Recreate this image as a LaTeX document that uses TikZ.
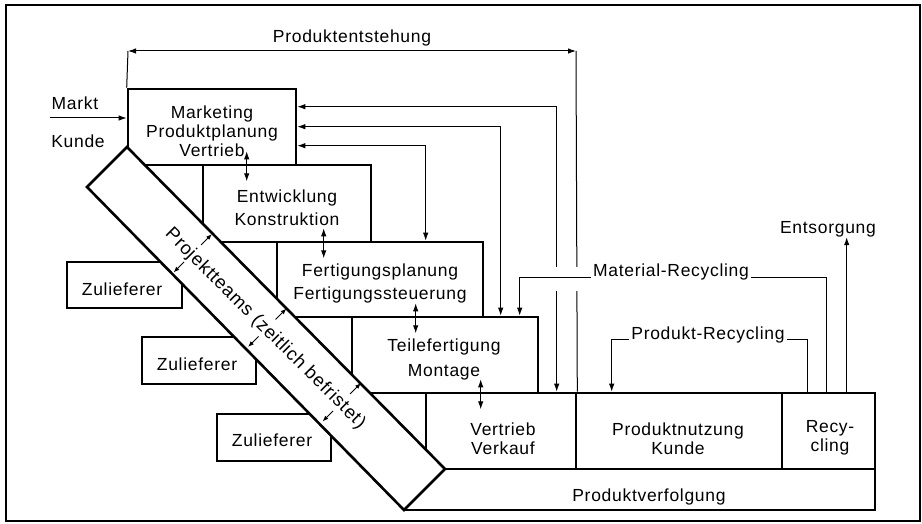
\documentclass[tikz,border=0pt]{standalone}
\usepackage{fontspec}
\newfontfamily\lbl[LetterSpace=4]{Liberation Sans}
\usetikzlibrary{arrows.meta}
\newcommand{\lblfont}{\lbl\fontsize{17.5}{19}\selectfont}
\begin{document}
\begin{tikzpicture}[x=1pt,y=-1pt,
  box/.style={draw, line width=2.6pt, inner sep=0pt},
  band/.style={draw, line width=2.6pt, fill=white, line join=miter},
  con/.style={line width=1pt},
  tip/.style={-{Latex[length=8pt,width=5.5pt]}},
  dtip/.style={{Latex[length=8pt,width=5.5pt]}-{Latex[length=8pt,width=5.5pt]}},
  stip/.style={line width=0.9pt,-{Latex[length=6pt,width=4.5pt]}},
  lab/.style={font=\lblfont, align=center, inner sep=0pt, text height=12.5pt, text depth=3.5pt},
  mlab/.style={font=\lblfont, align=center, inner sep=0pt},
  wlab/.style={lab, fill=white, inner xsep=2pt}
]
\useasboundingbox (0,0) rectangle (922,524);
\draw[line width=1.8pt] (6,5) rectangle (920,521);

% process boxes
\node[box, minimum width=168pt, minimum height=76pt] (mk) at (212,127) {};
\node[box, minimum width=168pt, minimum height=77pt] (ek) at (287,203.5) {};
\node[box, minimum width=206pt, minimum height=75pt] (fp) at (380,279.5) {};
\node[box, minimum width=186pt, minimum height=76pt] (tf) at (445,355) {};
\node[box, minimum width=150pt, minimum height=76pt] (vv) at (501,431) {};
\node[box, minimum width=206pt, minimum height=76pt] (pn) at (679,431) {};
\node[box, minimum width=93pt, minimum height=76pt] (rc) at (828.5,431) {};
\node[box, minimum width=471pt, minimum height=41pt] (pv) at (639.5,489.5) {};

% suppliers
\node[box, minimum width=115pt, minimum height=46pt] (z1) at (124.5,285) {};
\node[box, minimum width=114pt, minimum height=47pt] (z2) at (199,360.5) {};
\node[box, minimum width=114pt, minimum height=47pt] (z3) at (274,437.5) {};

% project team band
\coordinate (bA) at (127,147);
\coordinate (bC) at (445,469);
\coordinate (bD) at (404,510);
\coordinate (bB) at (87,187);
\draw[band] (bA) -- (bC) -- (bD) -- (bB) -- cycle;

% small arrows on the band
\coordinate (u0a) at (201,245);   \coordinate (u0b) at (212,234);
\coordinate (d0a) at (184,262);   \coordinate (d0b) at (173.5,272.5);
\coordinate (u1a) at (275.5,319.5); \coordinate (u1b) at (286.5,308.5);
\coordinate (d1a) at (258.5,336.5); \coordinate (d1b) at (248,347);
\coordinate (u2a) at (350,394);   \coordinate (u2b) at (361,383);
\coordinate (d2a) at (333,411);   \coordinate (d2b) at (322.5,421.5);
\foreach \k in {0,1,2}{
  \draw[stip] (u\k a) -- (u\k b);
  \draw[stip] (d\k a) -- (d\k b);
}

% double arrows between successive boxes
\draw[con,dtip] ([xshift=120pt,yshift=15pt]mk.south west) -- ([xshift=120pt,yshift=-15pt]mk.south west);
\draw[con,dtip] ([xshift=122pt,yshift=15pt]ek.south west) -- ([xshift=122pt,yshift=-15pt]ek.south west);
\draw[con,dtip] ([xshift=140pt,yshift=15pt]fp.south west) -- ([xshift=140pt,yshift=-15pt]fp.south west);
\draw[con,dtip] ([xshift=130pt,yshift=15pt]tf.south west) -- ([xshift=130pt,yshift=-15pt]tf.south west);

% feedback loops to marketing
\draw[con,dtip] ([yshift=-19pt]mk.north east) -| ([xshift=132pt]vv.north west);
\draw[con,dtip] ([yshift=-39pt]mk.north east) -| ([xshift=150pt]tf.north west);
\draw[con,dtip] ([yshift=-58pt]mk.north east) -| ([xshift=150pt]fp.north west);

% Produktentstehung bracket
\coordinate (pl) at (128,51);
\coordinate (pr) at (576,51);
\draw[con] (mk.north west) -- (pl);
\draw[con,dtip] (pl) -- (pr);
\draw[con] (pr) -- (vv.north east);

% gaps where material recycling crosses
\draw[white, line width=24pt] (540,279) -- (590,279);

% recycling loops
\draw[con,tip] ([xshift=46pt]rc.north west) -- ++(0,-114) -| ([xshift=169pt]tf.north west);
\draw[con,tip] ([xshift=27pt]rc.north west) -- ++(0,-52) -| ([xshift=37pt]pn.north west);

% Entsorgung
\node[lab] (ent) at (828,229) {Entsorgung};
\coordinate (rcE) at ([xshift=66pt]rc.north west);
\draw[con,tip] (rcE) -- (rcE |- ent.south);

% Markt input
\coordinate (mkt) at (50,118);
\draw[con,tip] (mkt) -- (mk.west |- mkt);

% labels
\node[lab] (tMarkt) at (75,105) {Markt};
\node[lab] (tKunde) at (78,143) {Kunde};
\node[lab] (tPE) at (352,38) {Produktentstehung};
\node[mlab] (tmk) at (212,131) {Marketing\\Produktplanung\\Vertrieb};
\node[mlab] (tek) at (287,208) {Entwicklung\\[4pt]Konstruktion};
\node[mlab] (tfp) at (380,283) {Fertigungsplanung\\[4pt]Fertigungssteuerung};
\node[mlab] (ttf) at (444,359) {Teilefertigung\\[6pt]Montage};
\node[mlab] (tvv) at (503,439) {Vertrieb\\Verkauf};
\node[mlab] (tpn) at (678,438.5) {Produktnutzung\\Kunde};
\node[mlab] (trc) at (830,437.5) {Recy-\\cling};
\node[lab] (tpv) at (649,497) {Produktverfolgung};
\node[lab] (tz1) at (122,291) {Zulieferer};
\node[lab] (tz2) at (197,366) {Zulieferer};
\node[lab] (tz3) at (272,442) {Zulieferer};
\node[wlab] (tmr) at (671,272) {Material-Recycling};
\node[wlab] (tpr) at (708,335) {Produkt-Recycling};
\node[lab, rotate=-45, font=\lbl\fontsize{18.5}{20}\selectfont] (tpt) at (265,329) {Projektteams (zeitlich befristet)};
\end{tikzpicture}
\end{document}
